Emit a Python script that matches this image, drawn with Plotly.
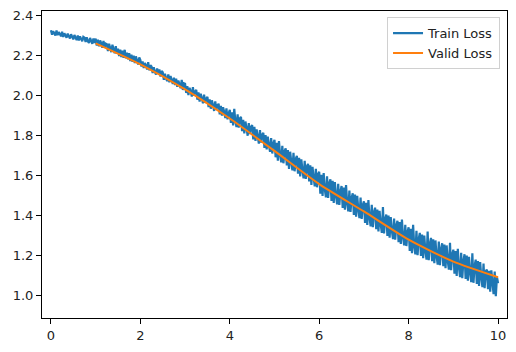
import plotly.graph_objects as go

train_x = [i / 40 for i in range(401)]
train_loss = [
    # 0 - 1
    2.326, 2.303, 2.321, 2.306, 2.299, 2.324, 2.301, 2.317, 2.304, 2.296,
    2.318, 2.292, 2.311, 2.297, 2.288, 2.309, 2.293, 2.284, 2.306, 2.290,
    2.280, 2.302, 2.285, 2.276, 2.299, 2.274, 2.295, 2.281, 2.271, 2.293,
    2.289, 2.267, 2.291, 2.270, 2.262, 2.287, 2.266, 2.258, 2.284, 2.262,
    # 1 - 2
    2.284, 2.249, 2.279, 2.245, 2.275, 2.262, 2.238, 2.272, 2.240, 2.259,
    2.256, 2.221, 2.258, 2.226, 2.216, 2.253, 2.222, 2.211, 2.246, 2.208,
    2.234, 2.196, 2.229, 2.192, 2.224, 2.188, 2.228, 2.185, 2.214, 2.180,
    2.211, 2.172, 2.204, 2.168, 2.199, 2.161, 2.195, 2.164, 2.154, 2.190,
    # 2 - 3
    2.176, 2.144, 2.170, 2.137, 2.162, 2.150, 2.130, 2.166, 2.125, 2.150,
    2.144, 2.111, 2.141, 2.117, 2.104, 2.135, 2.108, 2.130, 2.094, 2.122,
    2.116, 2.078, 2.108, 2.084, 2.072, 2.105, 2.065, 2.097, 2.076, 2.057,
    2.088, 2.051, 2.083, 2.043, 2.074, 2.058, 2.036, 2.077, 2.027, 2.060,
    # 3 - 4
    2.058, 2.012, 2.046, 2.001, 2.038, 2.022, 1.994, 2.041, 1.998, 2.019,
    2.027, 1.978, 2.015, 1.969, 2.008, 1.986, 1.960, 2.004, 1.962, 1.983,
    1.992, 1.941, 1.980, 1.933, 1.975, 1.950, 1.922, 1.970, 1.928, 1.949,
    1.958, 1.905, 1.947, 1.899, 1.941, 1.917, 1.886, 1.935, 1.880, 1.910,
    # 4 - 5
    1.928, 1.862, 1.915, 1.850, 1.933, 1.871, 1.842, 1.905, 1.838, 1.884,
    1.892, 1.821, 1.878, 1.810, 1.869, 1.835, 1.798, 1.861, 1.806, 1.842,
    1.851, 1.779, 1.842, 1.772, 1.830, 1.795, 1.758, 1.826, 1.764, 1.803,
    1.812, 1.737, 1.801, 1.730, 1.794, 1.751, 1.718, 1.786, 1.709, 1.760,
    # 5 - 6
    1.778, 1.690, 1.762, 1.673, 1.771, 1.702, 1.665, 1.748, 1.660, 1.721,
    1.735, 1.649, 1.726, 1.632, 1.718, 1.667, 1.625, 1.712, 1.620, 1.683,
    1.697, 1.608, 1.688, 1.594, 1.680, 1.626, 1.585, 1.672, 1.582, 1.645,
    1.657, 1.569, 1.650, 1.552, 1.642, 1.590, 1.545, 1.633, 1.540, 1.606,
    # 6 - 7
    1.618, 1.508, 1.603, 1.497, 1.611, 1.530, 1.490, 1.595, 1.487, 1.560,
    1.580, 1.472, 1.572, 1.462, 1.566, 1.498, 1.455, 1.557, 1.452, 1.521,
    1.546, 1.437, 1.538, 1.428, 1.551, 1.462, 1.420, 1.523, 1.417, 1.488,
    1.510, 1.402, 1.503, 1.393, 1.497, 1.430, 1.386, 1.488, 1.382, 1.452,
    # 7 - 8
    1.470, 1.362, 1.462, 1.351, 1.476, 1.388, 1.345, 1.452, 1.340, 1.415,
    1.438, 1.330, 1.429, 1.319, 1.422, 1.355, 1.312, 1.441, 1.309, 1.380,
    1.404, 1.297, 1.398, 1.288, 1.391, 1.322, 1.281, 1.384, 1.278, 1.350,
    1.372, 1.265, 1.366, 1.256, 1.378, 1.290, 1.249, 1.352, 1.246, 1.318,
    # 8 - 9
    1.340, 1.222, 1.332, 1.210, 1.352, 1.246, 1.205, 1.322, 1.200, 1.281,
    1.312, 1.196, 1.304, 1.185, 1.298, 1.222, 1.178, 1.318, 1.175, 1.256,
    1.287, 1.170, 1.280, 1.160, 1.274, 1.196, 1.153, 1.268, 1.150, 1.230,
    1.260, 1.145, 1.254, 1.135, 1.249, 1.172, 1.128, 1.262, 1.125, 1.205,
    # 9 - 10
    1.228, 1.108, 1.221, 1.097, 1.232, 1.140, 1.090, 1.212, 1.085, 1.172,
    1.205, 1.082, 1.198, 1.072, 1.192, 1.115, 1.065, 1.210, 1.062, 1.146,
    1.178, 1.056, 1.171, 1.046, 1.166, 1.090, 1.040, 1.158, 1.035, 1.120,
    1.128, 1.030, 1.122, 1.018, 1.125, 1.062, 1.005, 1.118, 0.995, 1.092,
    1.060,
]

valid_x = [1, 2, 3, 4, 5, 6, 7, 8, 9, 10]
valid_loss = [2.26, 2.155, 2.03, 1.884, 1.722, 1.556, 1.419, 1.278, 1.168, 1.09]

x_ticks = [0, 2, 4, 6, 8, 10]
y_ticks = [1.0, 1.2, 1.4, 1.6, 1.8, 2.0, 2.2, 2.4]

fig = go.Figure()
fig.add_trace(go.Scatter(x=train_x, y=train_loss, mode="lines", name="Train Loss",
                         line=dict(color="#1f77b4", width=2.2)))
fig.add_trace(go.Scatter(x=valid_x, y=valid_loss, mode="lines", name="Valid Loss",
                         line=dict(color="#ff7f0e", width=2, shape="spline", smoothing=0.6)))

axis_common = dict(showline=True, linecolor="black", linewidth=1, mirror=True,
                   ticks="outside", ticklen=5, tickwidth=1, tickcolor="black",
                   showgrid=False, zeroline=False,
                   tickfont=dict(family="DejaVu Sans", size=13, color="#222"))

fig.update_layout(
    width=516, height=352,
    margin=dict(l=42, r=9, t=11, b=34),
    plot_bgcolor="white", paper_bgcolor="white",
    xaxis=dict(range=[-0.2, 10.2], tickvals=x_ticks, ticktext=[str(v) for v in x_ticks], **axis_common),
    yaxis=dict(range=[0.886, 2.422], tickvals=y_ticks, ticktext=[f"{v:.1f}" for v in y_ticks], **axis_common),
    legend=dict(x=0.985, y=0.98, xanchor="right", yanchor="top",
                bgcolor="rgba(255,255,255,0.8)", bordercolor="#d0d0d0", borderwidth=1,
                font=dict(family="DejaVu Sans", size=13, color="#222"),
                tracegroupgap=0),
    showlegend=True,
)

fig.write_html("out.html")
